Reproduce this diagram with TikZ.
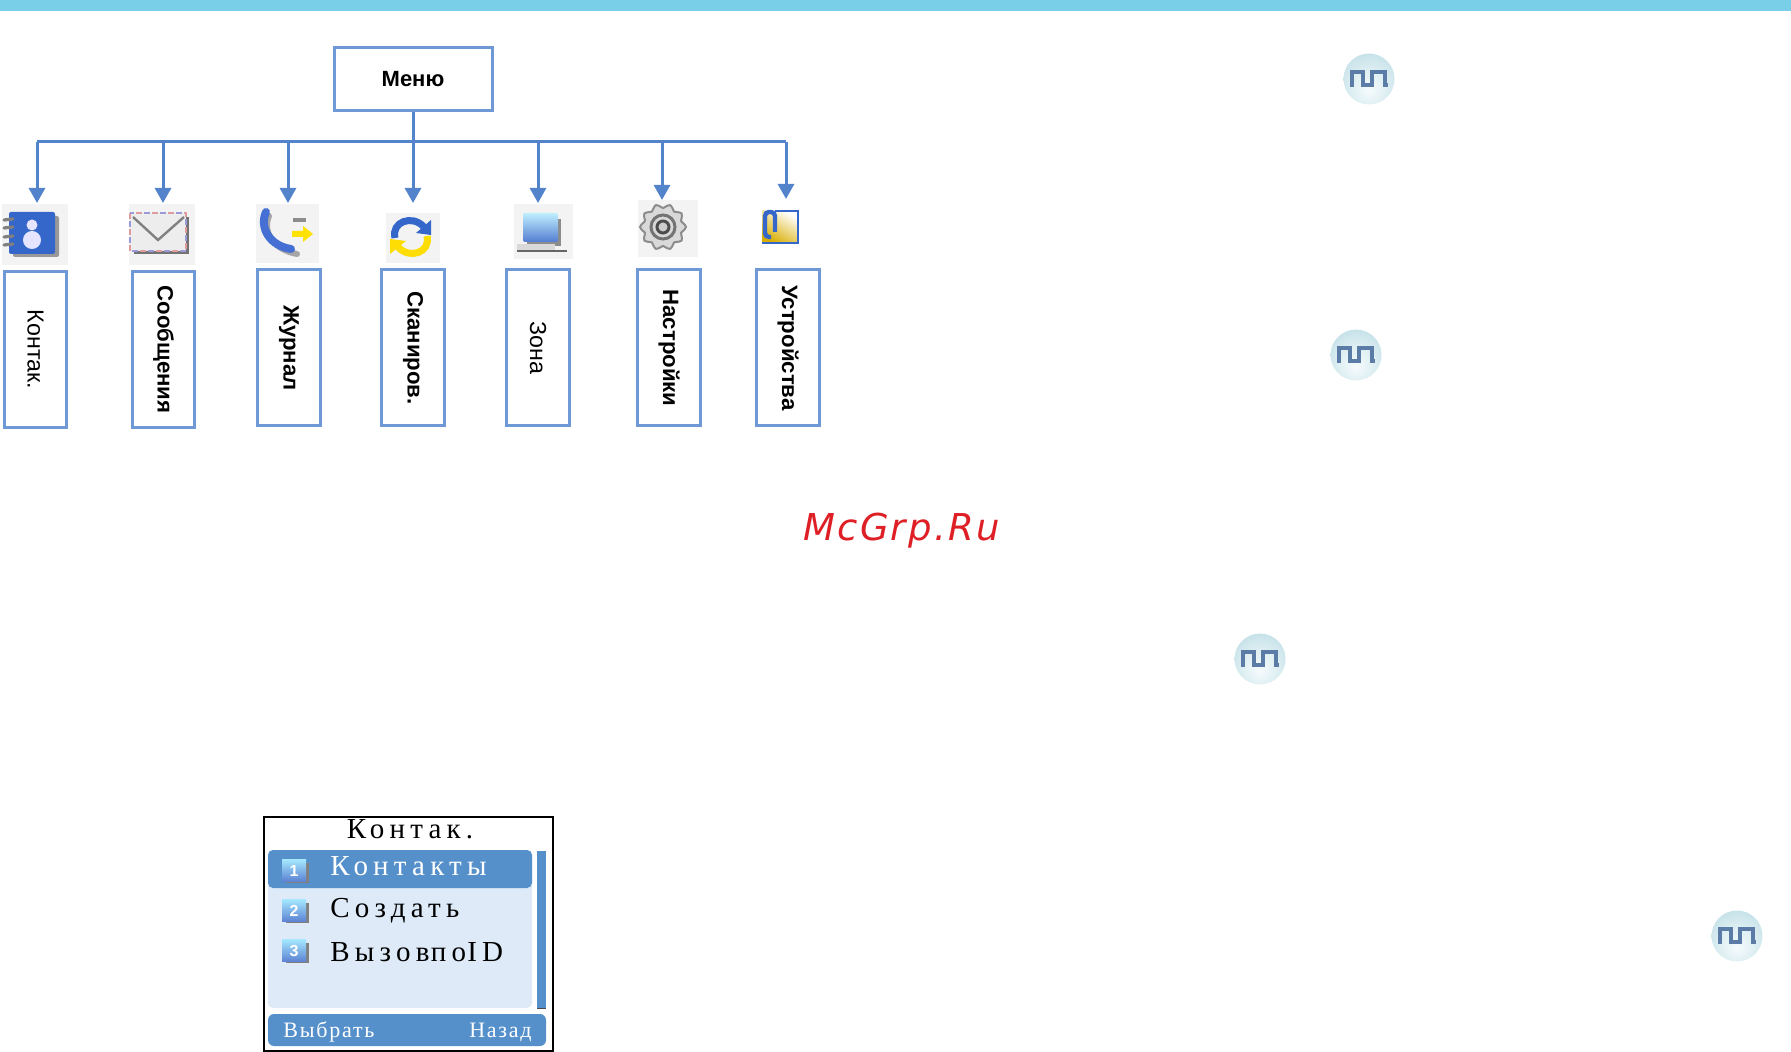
\documentclass[tikz,border=0pt]{standalone}
\usepackage{fontspec}
\setmainfont{Liberation Sans}
\newfontfamily\lcdfont[LetterSpace=18,WordSpace=0.1]{Liberation Serif}
\newfontfamily\softfont[LetterSpace=8]{Liberation Serif}
\newfontfamily\markfont[LetterSpace=6]{DejaVu Sans}
\usetikzlibrary{arrows.meta}
\definecolor{wireblue}{HTML}{5283CB}
\definecolor{boxblue}{HTML}{6F98D6}
\definecolor{barblue}{HTML}{5590CB}
\definecolor{panelblue}{HTML}{DEEAF7}
\definecolor{icongrey}{HTML}{F2F3F2}
\definecolor{topbar}{HTML}{79CFE8}
\definecolor{bookblue}{HTML}{3566C9}
\definecolor{pulseblue}{HTML}{5B7CA6}
\definecolor{ballA}{HTML}{F6FBFC}
\definecolor{ballB}{HTML}{E0F0F3}
\definecolor{ballC}{HTML}{BEDDE6}
\definecolor{ballD}{HTML}{6FAEC4}
\pgfdeclareradialshading{bubble}{\pgfpoint{0bp}{-12bp}}{color(0bp)=(ballA); color(16bp)=(ballB); color(36bp)=(ballC); color(48bp)=(ballC); color(60bp)=(ballD)}
\tikzset{
  menubox/.style={draw=boxblue, line width=1.5pt, fill=white, inner sep=0pt, font=\fontsize{11}{13}\selectfont\bfseries},
  labelbox/.style={menubox, rotate=-90, minimum width=78pt, minimum height=31.2pt, font=\fontsize{11.6}{13}\selectfont},
  labelbold/.style={labelbox, font=\fontsize{11.1}{13}\selectfont\bfseries},
  wire/.style={draw=wireblue, line width=1.5pt},
  iconbg/.style={fill=icongrey, draw=none},
  lcdtext/.style={inner sep=0pt, font=\fontsize{14.5}{16}\lcdfont},
  softtext/.style={inner sep=0pt, text=white, font=\fontsize{11}{13}\softfont},
  numkey/.style={top color=blue!25!cyan!35!white, bottom color=bookblue!80!white, draw=none}
}
\begin{document}
\begin{tikzpicture}[x=0.5pt, y=-0.5pt]
\useasboundingbox (0,0) rectangle (1791,1052);
\fill[topbar] (0,0) rectangle (1791,11);

% menu tree
\node[menubox, minimum width=79pt, minimum height=31.5pt] (menu) at (413,79.5) {Меню};
\coordinate (bus) at (413,142);
\coordinate (tipKont) at (37,203);
\coordinate (tipSoob) at (163,203);
\coordinate (tipJurn) at (288,203);
\coordinate (tipScan) at (413,203);
\coordinate (tipZona) at (538,203);
\coordinate (tipNast) at (662,200);
\coordinate (tipUstr) at (786,199);
\draw[wire] (menu.south) -- (bus);
\draw[wire] (tipKont |- bus) -- (tipUstr |- bus);
\foreach \t in {tipKont,tipSoob,tipJurn,tipScan,tipZona,tipNast,tipUstr}
  \draw[wire, -{Triangle[width=8pt,length=7.5pt]}] (\t |- bus) -- (\t);

\node[labelbox]  (kont) at (35.5,349.5) {Контак.};
\node[labelbold] (soob) at (163.5,349.5) {Сообщения};
\node[labelbold] (jurn) at (289,348) {Журнал};
\node[labelbold] (scan) at (413,348) {Сканиров.};
\node[labelbox]  (zona) at (538,348) {Зона};
\node[labelbold] (nast) at (669,348) {Настройки};
\node[labelbold] (ustr) at (788,348) {Устройства};

% icon: contacts
\fill[iconbg] (2,204) rectangle (68,265);
\fill[black!40, rounded corners=1pt] (13,216) rectangle (59,257);
\fill[bookblue, rounded corners=1pt] (9,212) rectangle (55,254);
\fill[white!90!blue] (32,225) circle (5.5);
\fill[white!90!blue] (32,240) ellipse (9 and 9);
\foreach \y in {220,228,237,245}
  \draw[black!50, line width=1.6pt, line cap=round] (4,\y) -- (13,\y-1);

% icon: messages
\fill[iconbg] (129,204) rectangle (195,265);
\fill[black!55] (134,217) rectangle (189,254);
\fill[white!93!black] (130,213) rectangle (186,251);
\draw[red!35!white!75!gray, line width=.9pt, dash pattern=on 3pt off 5pt] (130,213) rectangle (186,251);
\draw[blue!35!white!70!gray, line width=.9pt, dash pattern=on 3pt off 5pt, dash phase=4pt] (130,213) rectangle (186,251);
\draw[black!50, line width=1.2pt] (133,217) -- (158,240) -- (184,217);

% icon: call log
\fill[iconbg] (256,204) rectangle (319,263);
\draw[black!35, line width=3pt, line cap=round] (269,216) .. controls (262,232) and (274,250) .. (297,254);
\draw[wireblue!85!blue, line width=4pt, line cap=round] (266,212) .. controls (259,228) and (270,246) .. (291,249);
\fill[black!45] (293,218) rectangle (306,222);
\fill[yellow!85!orange] (292,231) -- (303,231) -- (303,226) -- (313,234) -- (303,242) -- (303,237) -- (292,237) -- cycle;

% icon: scan
\fill[iconbg] (386,213) rectangle (440,263);
\draw[bookblue, line width=3.5pt] (395,238) .. controls (391,222) and (412,214) .. (424,227);
\fill[bookblue] (431,220) -- (431,235) -- (416,233) -- cycle;
\draw[yellow!80!orange, line width=3.5pt] (427,236) .. controls (431,252) and (410,260) .. (398,247);
\fill[yellow!80!orange] (390,254) -- (390,239) -- (406,241) -- cycle;

% icon: zone
\fill[iconbg] (514,204) rectangle (573,259);
\fill[black!45] (527,219) rectangle (561,246);
\shade[top color=blue!25!cyan!25!white, bottom color=bookblue!85!white, rounded corners=1pt] (523,213) rectangle (558,242);
\fill[white!85!black] (517,244) rectangle (555,250);
\draw[black!60, line width=1.2pt] (517,251) -- (567,251);

% icon: settings
\fill[iconbg] (638,200) rectangle (698,257);
\draw[black!45, fill=black!15, line width=1pt] plot[smooth cycle, samples=40, domain=0:351] ({663+(21+2*cos(10*\x))*cos(\x)}, {227+(21+2*cos(10*\x))*sin(\x)});
\draw[black!55, fill=white!85!black, line width=1.5pt] (663,227) circle (12);
\draw[black!70, fill=white!80!black, line width=1.5pt] (663,227) circle (6);

% icon: devices
\shade[top color=white, bottom color=yellow!60!orange!85!black, shading angle=-30] (762,211) rectangle (798,243);
\draw[bookblue, line width=.9pt] (762,243) -- (798,243) -- (798,211) -- (775,211);
\draw[bookblue, line width=2.2pt, rounded corners=2pt] (771,237) -- (765,237) -- (765,212) -- (775,212) -- (775,232);

% pulse buttons
\foreach \bx/\by in {1369/79,1356/355,1260/659,1737/936}{
  \shade[shading=bubble] (\bx,\by) circle (25.5);
  \draw[pulseblue, line width=2pt, shift={(\bx,\by)}] (-19,6) -- (-17,6) -- (-17,-7) -- (-6,-7) -- (-6,6) -- (3,6) -- (3,-7) -- (16,-7) -- (16,6) -- (19,6);
}

% watermark
\node[anchor=base west, inner sep=0pt, text={rgb,255:red,222;green,32;blue,38}, font=\fontsize{18.5}{20}\markfont\itshape] (mark) at (803,540) {McGrp.Ru};

% phone screen
\draw[black, line width=.7pt, fill=white] (264,817) rectangle (553,1051);
\node[lcdtext, anchor=base] (title) at (410,838) {Контак.};
\fill[panelblue, rounded corners=2.5pt] (268,850) rectangle (532,1008);
\fill[barblue, rounded corners=2.5pt] (268,850) rectangle (532,888);
\fill[barblue] (537,851) rectangle (546,1008);
\draw[black!70, line width=.5pt] (537,1008) -- (546,1008);
\fill[barblue, rounded corners=3pt] (268,1014) rectangle (546,1046);
\foreach \ky/\kn in {870/1,910/2,950/3}{
  \fill[black!50] (286,\ky-7) rectangle (309,\ky+13);
  \shade[numkey] (282,\ky-11) rectangle (306,\ky+11);
  \node[inner sep=0pt, text=white, font=\fontsize{8}{9}\selectfont\bfseries] at (294,\ky+1) {\kn};
}
\node[lcdtext, anchor=base west, text=white] (item1) at (330,875) {Контакты};
\node[lcdtext, anchor=base west] (item2) at (330,917) {Создать};
\node[lcdtext, anchor=base west] (item3) at (330,961) {Вызов по ID};
\node[softtext, anchor=base west] (soft1) at (283,1037) {Выбрать};
\node[softtext, anchor=base east] (soft2) at (532,1037) {Назад};
\end{tikzpicture}
\end{document}
